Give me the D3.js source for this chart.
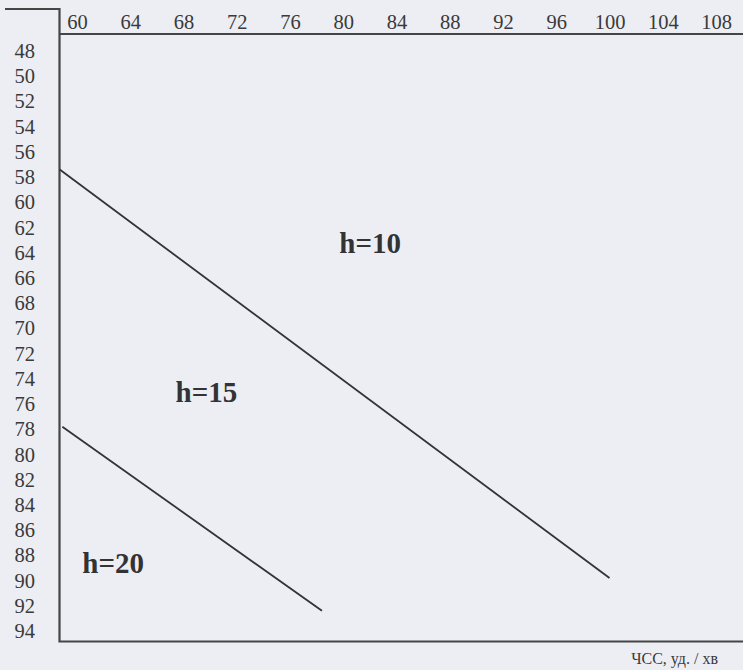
<!DOCTYPE html>
<html>
<head>
<meta charset="utf-8">
<script src="https://cdn.jsdelivr.net/npm/d3@7"></script>
<style>
  html, body { margin: 0; padding: 0; background: #edeef4; }
  svg { display: block; }
</style>
</head>
<body>
<svg id="chart" width="743" height="670"></svg>
<script>
// Heart rate (top axis) and second scale (left axis) tick values
const hrTicks = [60, 64, 68, 72, 76, 80, 84, 88, 92, 96, 100, 104, 108];
const leftTicks = [48, 50, 52, 54, 56, 58, 60, 62, 64, 66, 68, 70, 72, 74, 76, 78, 80, 82, 84, 86, 88, 90, 92, 94];

// Boundary lines between zones: [heart rate, left-scale value]
const line10to15 = [[58.7, 57.4], [100, 89.8]];
const line15to20 = [[58.9, 77.8], [78.4, 92.4]];

// Zone labels and their anchor points
const zoneNames = ["h=10", "h=15", "h=20"];
const zoneHr = [79.7, 67.4, 60.4];
const zoneVal = [64.0, 75.8, 89.4];

const axisTitle = "ЧСС, уд. / хв";

const svg = d3.select("#chart");
const ink = "#3a3a3a";

const x = d3.scaleLinear().domain([60, 108]).range([77, 716]);
const y = d3.scaleLinear().domain([48, 94]).range([51, 631]);

// Frame
const frame = svg.append("g")
  .attr("fill", "none")
  .attr("stroke", "#454545")
  .attr("stroke-width", 2.2);
frame.append("path").attr("d", "M5,9 H59.5 V641.5 H743");
frame.append("path").attr("d", "M59.5,34 H743");

// Top axis labels
const topAxis = svg.append("g")
  .attr("transform", "translate(0,34)")
  .call(d3.axisTop(x).tickValues(hrTicks).tickSize(0).tickPadding(5));
topAxis.select(".domain").remove();
topAxis.selectAll("text")
  .attr("font-family", "'Liberation Serif', 'Times New Roman', serif")
  .attr("font-size", 20.5)
  .attr("fill", ink);

// Left axis labels
const leftAxis = svg.append("g")
  .attr("transform", "translate(40,0)")
  .call(d3.axisLeft(y).tickValues(leftTicks).tickSize(0).tickPadding(5));
leftAxis.select(".domain").remove();
leftAxis.selectAll("text")
  .attr("font-family", "'Liberation Serif', 'Times New Roman', serif")
  .attr("font-size", 20.5)
  .attr("fill", ink);

// Zone boundary lines
const line = d3.line().x(d => x(d[0])).y(d => y(d[1]));
svg.selectAll("path.boundary")
  .data([line10to15, line15to20])
  .join("path")
  .attr("class", "boundary")
  .attr("d", line)
  .attr("fill", "none")
  .attr("stroke", "#333")
  .attr("stroke-width", 1.8);

// Zone labels
svg.selectAll("text.zone")
  .data(zoneNames)
  .join("text")
  .attr("class", "zone")
  .attr("x", (d, i) => x(zoneHr[i]))
  .attr("y", (d, i) => y(zoneVal[i]))
  .attr("font-family", "'Liberation Serif', 'Times New Roman', serif")
  .attr("font-weight", "bold")
  .attr("font-size", 29)
  .attr("fill", "#333")
  .text(d => d);

// Axis title
svg.append("text")
  .attr("x", 718)
  .attr("y", 664)
  .attr("text-anchor", "end")
  .attr("font-family", "'Liberation Serif', 'Times New Roman', serif")
  .attr("font-size", 16)
  .attr("fill", ink)
  .text(axisTitle);
</script>
</body>
</html>
